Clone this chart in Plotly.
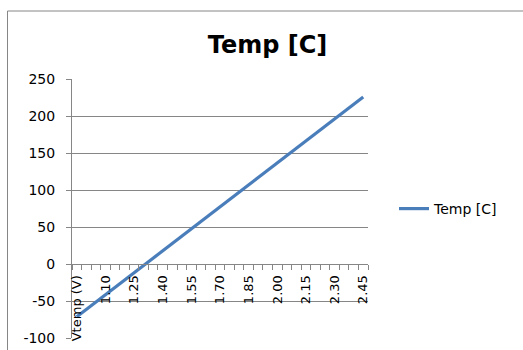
import plotly.graph_objects as go

categories = ["Vtemp (V)", "1.00", "1.05", "1.10", "1.15", "1.20", "1.25", "1.30", "1.35",
              "1.40", "1.45", "1.50", "1.55", "1.60", "1.65", "1.70", "1.75", "1.80",
              "1.85", "1.90", "1.95", "2.00", "2.05", "2.10", "2.15", "2.20", "2.25",
              "2.30", "2.35", "2.40", "2.45"]
temp_c = [-71.3, -61.4, -51.5, -41.6, -31.7, -21.8, -11.9, -2.0, 7.9, 17.8, 27.7, 37.6,
          47.5, 57.4, 67.3, 77.2, 87.1, 97.0, 106.9, 116.8, 126.7, 136.6, 146.5, 156.4,
          166.3, 176.2, 186.1, 196.0, 205.9, 215.8, 225.7]
series_name = "Temp [C]"
y_ticks = [-100, -50, 0, 50, 100, 150, 200, 250]
y_tick_labels = ["-100", "-50", "0", "50", "100", "150", "200", "250"]

idx = list(range(len(categories)))
label_idx = idx[::3]
label_text = [categories[i] for i in label_idx]

W, H = 523, 350
L, R, T, B = 72, 155, 79, 12
pw, ph = W - L - R, H - T - B

def px(x):
    return (x - L) / pw

def py(y):
    return (H - B - y) / ph

grey = "#868686"
font = "DejaVu Sans"

fig = go.Figure()
fig.add_trace(go.Scatter(x=idx, y=temp_c, mode="lines", name=series_name,
                         line=dict(color="#4A7EBB", width=3.2)))

fig.update_layout(
    width=W, height=H,
    margin=dict(l=L, r=R, t=T, b=B, autoexpand=False),
    paper_bgcolor="white", plot_bgcolor="white",
    font=dict(family=font, size=13, color="black"),
    title=dict(text="<b>Temp [C]</b>", x=267.5 / W, xanchor="center",
               y=1 - 45 / H, yanchor="middle",
               font=dict(family=font, size=24, color="black")),
    showlegend=True,
    legend=dict(x=px(394), xanchor="left", y=py(209), yanchor="middle",
                font=dict(family=font, size=14, color="black"),
                bgcolor="rgba(0,0,0,0)", borderwidth=0),
    xaxis=dict(range=[-0.5, len(categories) - 0.5], tickmode="array",
               tickvals=label_idx, ticktext=label_text, tickangle=-90,
               anchor="free", position=100 / 350,
               showgrid=False, zeroline=False, showline=True, linecolor=grey, linewidth=1,
               ticks="outside", ticklen=5, tickcolor="rgba(0,0,0,0)",
               tickfont=dict(family=font, size=13, color="black"),
               minor=dict(tickmode="linear", tick0=-0.5, dtick=1, ticks="outside",
                          ticklen=5, tickcolor=grey, showgrid=False)),
    yaxis=dict(range=[-100, 250], tickmode="array", tickvals=y_ticks,
               ticktext=y_tick_labels,
               showgrid=True, gridcolor=grey, gridwidth=1, zeroline=False,
               showline=True, linecolor=grey, linewidth=1,
               ticks="outside", ticklen=5, tickcolor=grey,
               ticklabelstandoff=8,
               tickfont=dict(family=font, size=14, color="black")),
    shapes=[
        dict(type="line", xref="paper", yref="paper", x0=px(7.5), x1=px(7.5),
             y0=py(11), y1=py(H + 5), line=dict(color=grey, width=1)),
        dict(type="line", xref="paper", yref="paper", x0=px(7.5), x1=px(W + 5),
             y0=py(11), y1=py(11), line=dict(color=grey, width=1)),
    ],
)

fig.write_html("out.html", config={"displayModeBar": False},
               post_script="document.body.style.margin='0px';")
